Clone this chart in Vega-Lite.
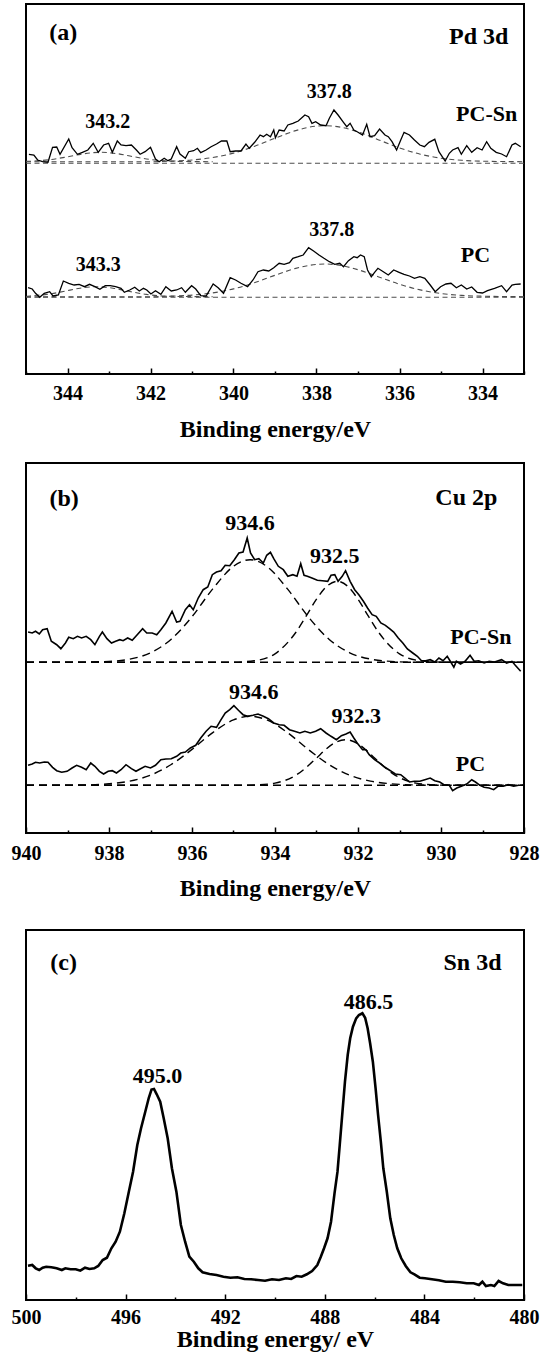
{
"$schema": "https://vega.github.io/schema/vega-lite/v6.json",
"background": "white",
"padding": {"left": 10, "top": 3, "right": 5, "bottom": 5},
"spacing": 20,
"config": {
  "font": "Liberation Serif",
  "view": {"stroke": "black", "strokeWidth": 2},
  "axis": {"grid": false, "domain": false, "ticks": true, "tickColor": "black", "tickWidth": 1.5, "labelFlush": false, "labelOverlap": false, "labelFont": "Liberation Serif", "labelFontWeight": "bold", "labelFontSize": 20, "labelColor": "black", "titleFont": "Liberation Serif", "titleFontWeight": "bold", "titleFontSize": 24, "titleColor": "black"},
  "text": {"font": "Liberation Serif", "fontWeight": "bold", "color": "black", "baseline": "middle", "align": "center"}
},
"datasets": {
"a_data": [
{"s":"PC-Sn","x":344.93,"y":219.7},{"s":"PC-Sn","x":344.81,"y":219.0},{"s":"PC-Sn","x":344.72,"y":214.0},{"s":"PC-Sn","x":344.60,"y":212.3},{"s":"PC-Sn","x":344.47,"y":211.7},{"s":"PC-Sn","x":344.36,"y":226.7},{"s":"PC-Sn","x":344.26,"y":227.0},{"s":"PC-Sn","x":344.18,"y":219.7},{"s":"PC-Sn","x":343.97,"y":235.0},{"s":"PC-Sn","x":343.89,"y":226.3},{"s":"PC-Sn","x":343.76,"y":219.7},{"s":"PC-Sn","x":343.64,"y":221.7},{"s":"PC-Sn","x":343.51,"y":224.0},{"s":"PC-Sn","x":343.38,"y":230.7},{"s":"PC-Sn","x":343.26,"y":221.7},{"s":"PC-Sn","x":343.13,"y":229.0},{"s":"PC-Sn","x":343.01,"y":230.7},{"s":"PC-Sn","x":342.92,"y":221.7},{"s":"PC-Sn","x":342.80,"y":233.0},{"s":"PC-Sn","x":342.71,"y":229.0},{"s":"PC-Sn","x":342.59,"y":228.3},{"s":"PC-Sn","x":342.46,"y":229.0},{"s":"PC-Sn","x":342.34,"y":224.0},{"s":"PC-Sn","x":342.25,"y":219.7},{"s":"PC-Sn","x":342.13,"y":222.3},{"s":"PC-Sn","x":342.00,"y":226.7},{"s":"PC-Sn","x":341.88,"y":215.0},{"s":"PC-Sn","x":341.79,"y":212.3},{"s":"PC-Sn","x":341.67,"y":215.7},{"s":"PC-Sn","x":341.58,"y":213.3},{"s":"PC-Sn","x":341.50,"y":215.0},{"s":"PC-Sn","x":341.37,"y":227.3},{"s":"PC-Sn","x":341.29,"y":220.0},{"s":"PC-Sn","x":341.16,"y":215.7},{"s":"PC-Sn","x":341.08,"y":222.3},{"s":"PC-Sn","x":340.96,"y":223.3},{"s":"PC-Sn","x":340.87,"y":225.7},{"s":"PC-Sn","x":340.79,"y":221.3},{"s":"PC-Sn","x":340.66,"y":224.0},{"s":"PC-Sn","x":340.54,"y":227.3},{"s":"PC-Sn","x":340.41,"y":230.0},{"s":"PC-Sn","x":340.29,"y":233.0},{"s":"PC-Sn","x":340.16,"y":233.0},{"s":"PC-Sn","x":340.08,"y":222.3},{"s":"PC-Sn","x":339.95,"y":223.0},{"s":"PC-Sn","x":339.82,"y":223.0},{"s":"PC-Sn","x":339.70,"y":230.0},{"s":"PC-Sn","x":339.62,"y":225.7},{"s":"PC-Sn","x":339.49,"y":231.7},{"s":"PC-Sn","x":339.36,"y":239.0},{"s":"PC-Sn","x":339.28,"y":237.3},{"s":"PC-Sn","x":339.20,"y":239.7},{"s":"PC-Sn","x":339.11,"y":237.3},{"s":"PC-Sn","x":339.03,"y":244.0},{"s":"PC-Sn","x":338.99,"y":236.3},{"s":"PC-Sn","x":338.90,"y":244.0},{"s":"PC-Sn","x":338.78,"y":243.0},{"s":"PC-Sn","x":338.69,"y":249.0},{"s":"PC-Sn","x":338.57,"y":250.7},{"s":"PC-Sn","x":338.44,"y":253.0},{"s":"PC-Sn","x":338.28,"y":259.0},{"s":"PC-Sn","x":338.19,"y":257.3},{"s":"PC-Sn","x":338.11,"y":250.7},{"s":"PC-Sn","x":338.02,"y":252.3},{"s":"PC-Sn","x":337.90,"y":249.0},{"s":"PC-Sn","x":337.77,"y":248.3},{"s":"PC-Sn","x":337.69,"y":255.7},{"s":"PC-Sn","x":337.58,"y":264.0},{"s":"PC-Sn","x":337.48,"y":259.0},{"s":"PC-Sn","x":337.35,"y":251.7},{"s":"PC-Sn","x":337.27,"y":247.3},{"s":"PC-Sn","x":337.19,"y":250.7},{"s":"PC-Sn","x":337.10,"y":244.0},{"s":"PC-Sn","x":337.02,"y":242.3},{"s":"PC-Sn","x":336.89,"y":239.0},{"s":"PC-Sn","x":336.79,"y":249.7},{"s":"PC-Sn","x":336.71,"y":237.3},{"s":"PC-Sn","x":336.60,"y":238.3},{"s":"PC-Sn","x":336.48,"y":245.0},{"s":"PC-Sn","x":336.35,"y":239.0},{"s":"PC-Sn","x":336.27,"y":237.3},{"s":"PC-Sn","x":336.18,"y":232.3},{"s":"PC-Sn","x":336.07,"y":224.0},{"s":"PC-Sn","x":335.97,"y":234.0},{"s":"PC-Sn","x":335.89,"y":241.7},{"s":"PC-Sn","x":335.76,"y":239.0},{"s":"PC-Sn","x":335.64,"y":234.0},{"s":"PC-Sn","x":335.51,"y":229.0},{"s":"PC-Sn","x":335.40,"y":227.3},{"s":"PC-Sn","x":335.29,"y":231.7},{"s":"PC-Sn","x":335.15,"y":234.7},{"s":"PC-Sn","x":335.05,"y":222.3},{"s":"PC-Sn","x":334.90,"y":213.0},{"s":"PC-Sn","x":334.80,"y":220.7},{"s":"PC-Sn","x":334.72,"y":224.0},{"s":"PC-Sn","x":334.59,"y":226.3},{"s":"PC-Sn","x":334.51,"y":219.7},{"s":"PC-Sn","x":334.38,"y":228.3},{"s":"PC-Sn","x":334.26,"y":221.7},{"s":"PC-Sn","x":334.13,"y":226.3},{"s":"PC-Sn","x":334.01,"y":224.0},{"s":"PC-Sn","x":333.90,"y":232.3},{"s":"PC-Sn","x":333.80,"y":225.7},{"s":"PC-Sn","x":333.67,"y":221.7},{"s":"PC-Sn","x":333.54,"y":220.0},{"s":"PC-Sn","x":333.42,"y":217.3},{"s":"PC-Sn","x":333.29,"y":229.0},{"s":"PC-Sn","x":333.21,"y":230.7},{"s":"PC-Sn","x":333.08,"y":227.3},
{"s":"PC","x":344.95,"y":86.3},{"s":"PC","x":344.85,"y":85.0},{"s":"PC","x":344.77,"y":80.7},{"s":"PC","x":344.67,"y":76.7},{"s":"PC","x":344.56,"y":80.7},{"s":"PC","x":344.43,"y":82.3},{"s":"PC","x":344.35,"y":78.0},{"s":"PC","x":344.22,"y":79.0},{"s":"PC","x":344.10,"y":93.0},{"s":"PC","x":343.97,"y":90.7},{"s":"PC","x":343.84,"y":89.0},{"s":"PC","x":343.72,"y":89.7},{"s":"PC","x":343.59,"y":87.3},{"s":"PC","x":343.47,"y":89.7},{"s":"PC","x":343.34,"y":87.3},{"s":"PC","x":343.22,"y":84.7},{"s":"PC","x":343.09,"y":88.3},{"s":"PC","x":342.97,"y":88.3},{"s":"PC","x":342.84,"y":87.3},{"s":"PC","x":342.71,"y":85.7},{"s":"PC","x":342.63,"y":81.7},{"s":"PC","x":342.50,"y":84.0},{"s":"PC","x":342.38,"y":86.7},{"s":"PC","x":342.27,"y":83.0},{"s":"PC","x":342.17,"y":85.7},{"s":"PC","x":342.09,"y":84.0},{"s":"PC","x":341.99,"y":80.0},{"s":"PC","x":341.88,"y":83.3},{"s":"PC","x":341.75,"y":79.7},{"s":"PC","x":341.63,"y":87.3},{"s":"PC","x":341.50,"y":83.0},{"s":"PC","x":341.37,"y":84.0},{"s":"PC","x":341.25,"y":86.3},{"s":"PC","x":341.16,"y":81.7},{"s":"PC","x":341.01,"y":88.3},{"s":"PC","x":340.91,"y":85.0},{"s":"PC","x":340.79,"y":78.3},{"s":"PC","x":340.66,"y":78.0},{"s":"PC","x":340.49,"y":90.0},{"s":"PC","x":340.37,"y":86.3},{"s":"PC","x":340.24,"y":80.7},{"s":"PC","x":340.08,"y":96.3},{"s":"PC","x":339.95,"y":94.0},{"s":"PC","x":339.82,"y":90.7},{"s":"PC","x":339.66,"y":87.3},{"s":"PC","x":339.53,"y":94.0},{"s":"PC","x":339.41,"y":102.3},{"s":"PC","x":339.28,"y":104.0},{"s":"PC","x":339.15,"y":103.0},{"s":"PC","x":339.03,"y":106.3},{"s":"PC","x":338.90,"y":110.7},{"s":"PC","x":338.78,"y":109.7},{"s":"PC","x":338.65,"y":111.3},{"s":"PC","x":338.57,"y":115.7},{"s":"PC","x":338.44,"y":117.3},{"s":"PC","x":338.32,"y":119.0},{"s":"PC","x":338.19,"y":126.3},{"s":"PC","x":338.07,"y":123.0},{"s":"PC","x":337.94,"y":119.0},{"s":"PC","x":337.82,"y":115.7},{"s":"PC","x":337.69,"y":112.3},{"s":"PC","x":337.56,"y":109.7},{"s":"PC","x":337.44,"y":110.7},{"s":"PC","x":337.35,"y":107.3},{"s":"PC","x":337.23,"y":113.3},{"s":"PC","x":337.10,"y":117.3},{"s":"PC","x":337.02,"y":116.3},{"s":"PC","x":336.94,"y":119.0},{"s":"PC","x":336.85,"y":117.3},{"s":"PC","x":336.77,"y":104.0},{"s":"PC","x":336.68,"y":97.3},{"s":"PC","x":336.60,"y":101.7},{"s":"PC","x":336.52,"y":105.7},{"s":"PC","x":336.39,"y":102.3},{"s":"PC","x":336.27,"y":99.0},{"s":"PC","x":336.14,"y":104.0},{"s":"PC","x":336.01,"y":101.7},{"s":"PC","x":335.89,"y":99.7},{"s":"PC","x":335.76,"y":98.0},{"s":"PC","x":335.64,"y":95.7},{"s":"PC","x":335.51,"y":97.3},{"s":"PC","x":335.39,"y":95.7},{"s":"PC","x":335.26,"y":89.0},{"s":"PC","x":335.14,"y":82.3},{"s":"PC","x":335.01,"y":87.3},{"s":"PC","x":334.88,"y":90.0},{"s":"PC","x":334.76,"y":90.7},{"s":"PC","x":334.63,"y":86.3},{"s":"PC","x":334.51,"y":89.0},{"s":"PC","x":334.38,"y":85.0},{"s":"PC","x":334.26,"y":87.0},{"s":"PC","x":334.13,"y":81.7},{"s":"PC","x":334.00,"y":81.0},{"s":"PC","x":333.88,"y":83.3},{"s":"PC","x":333.71,"y":85.7},{"s":"PC","x":333.54,"y":88.3},{"s":"PC","x":333.42,"y":82.3},{"s":"PC","x":333.29,"y":89.0},{"s":"PC","x":333.21,"y":89.7},{"s":"PC","x":333.08,"y":90.0}
],
"a_fit": [
{"s":"PC-Sn base","x":345,"y":210.8},{"s":"PC-Sn base","x":333,"y":210.8},
{"s":"PC-Sn main","x":345,"y":212.3},{"s":"PC-Sn main","x":342,"y":212.3},{"s":"PC-Sn main","x":341.5,"y":212.9},{"s":"PC-Sn main","x":341,"y":214.0},{"s":"PC-Sn main","x":340.5,"y":216.5},{"s":"PC-Sn main","x":340,"y":220.9},{"s":"PC-Sn main","x":339.5,"y":227.6},{"s":"PC-Sn main","x":339,"y":235.8},{"s":"PC-Sn main","x":338.5,"y":243.4},{"s":"PC-Sn main","x":338,"y":247.9},{"s":"PC-Sn main","x":337.8,"y":248.3},{"s":"PC-Sn main","x":337.5,"y":247.4},{"s":"PC-Sn main","x":337,"y":242.1},{"s":"PC-Sn main","x":336.5,"y":234.1},{"s":"PC-Sn main","x":336,"y":226.1},{"s":"PC-Sn main","x":335.5,"y":219.8},{"s":"PC-Sn main","x":335,"y":215.8},{"s":"PC-Sn main","x":334.5,"y":213.7},{"s":"PC-Sn main","x":334,"y":212.8},{"s":"PC-Sn main","x":333,"y":212.3},
{"s":"PC-Sn small","x":345,"y":212.6},{"s":"PC-Sn small","x":344.8,"y":213.0},{"s":"PC-Sn small","x":344.4,"y":214.5},{"s":"PC-Sn small","x":344,"y":217.2},{"s":"PC-Sn small","x":343.6,"y":220.3},{"s":"PC-Sn small","x":343.2,"y":221.7},{"s":"PC-Sn small","x":342.8,"y":220.3},{"s":"PC-Sn small","x":342.4,"y":217.2},{"s":"PC-Sn small","x":342,"y":214.5},{"s":"PC-Sn small","x":341.6,"y":213.0},{"s":"PC-Sn small","x":341.2,"y":212.5},{"s":"PC-Sn small","x":340.5,"y":212.3},
{"s":"PC base","x":345,"y":76.7},{"s":"PC base","x":333,"y":76.7},
{"s":"PC main","x":345,"y":77.3},{"s":"PC main","x":342,"y":77.3},{"s":"PC main","x":341.5,"y":77.9},{"s":"PC main","x":341,"y":78.9},{"s":"PC main","x":340.5,"y":81.1},{"s":"PC main","x":340,"y":85.1},{"s":"PC main","x":339.5,"y":91.2},{"s":"PC main","x":339,"y":98.7},{"s":"PC main","x":338.5,"y":105.6},{"s":"PC main","x":338,"y":109.6},{"s":"PC main","x":337.8,"y":110.0},{"s":"PC main","x":337.5,"y":109.1},{"s":"PC main","x":337,"y":104.3},{"s":"PC main","x":336.5,"y":97.1},{"s":"PC main","x":336,"y":89.8},{"s":"PC main","x":335.5,"y":84.1},{"s":"PC main","x":335,"y":80.5},{"s":"PC main","x":334.5,"y":78.6},{"s":"PC main","x":334,"y":77.8},{"s":"PC main","x":333,"y":77.3},
{"s":"PC small","x":345,"y":77.5},{"s":"PC small","x":344.9,"y":78.0},{"s":"PC small","x":344.5,"y":79.6},{"s":"PC small","x":344.1,"y":82.5},{"s":"PC small","x":343.7,"y":85.8},{"s":"PC small","x":343.3,"y":87.3},{"s":"PC small","x":342.9,"y":85.8},{"s":"PC small","x":342.5,"y":82.5},{"s":"PC small","x":342.1,"y":79.6},{"s":"PC small","x":341.7,"y":78.0},{"s":"PC small","x":341.3,"y":77.5},{"s":"PC small","x":340.5,"y":77.3}
],
"a_text": [
{"k":"peak","x":343.03,"y":252.3,"t":"343.2"},{"k":"peak","x":337.69,"y":281.7,"t":"337.8"},{"k":"peak","x":337.63,"y":144,"t":"337.8"},{"k":"peak","x":343.26,"y":109.3,"t":"343.3"},
{"k":"sample","x":333.9,"y":260.3,"t":"PC-Sn"},{"k":"sample","x":334.17,"y":119,"t":"PC"},
{"k":"head","x":344.1,"y":340.7,"t":"(a)"},{"k":"head","x":334.09,"y":337.3,"t":"Pd 3d"}
],
"b_data": [
{"s":"PC-Sn","x":939.95,"y":201},{"s":"PC-Sn","x":939.85,"y":200},{"s":"PC-Sn","x":939.77,"y":201.7},{"s":"PC-Sn","x":939.68,"y":199},{"s":"PC-Sn","x":939.60,"y":203.3},{"s":"PC-Sn","x":939.49,"y":204.3},{"s":"PC-Sn","x":939.39,"y":191.7},{"s":"PC-Sn","x":939.26,"y":188.3},{"s":"PC-Sn","x":939.16,"y":184.3},{"s":"PC-Sn","x":939.05,"y":190},{"s":"PC-Sn","x":938.97,"y":195.7},{"s":"PC-Sn","x":938.86,"y":194.3},{"s":"PC-Sn","x":938.76,"y":196.7},{"s":"PC-Sn","x":938.66,"y":195},{"s":"PC-Sn","x":938.55,"y":196.7},{"s":"PC-Sn","x":938.44,"y":193.3},{"s":"PC-Sn","x":938.34,"y":188.3},{"s":"PC-Sn","x":938.23,"y":196.7},{"s":"PC-Sn","x":938.16,"y":201},{"s":"PC-Sn","x":938.05,"y":194.3},{"s":"PC-Sn","x":937.94,"y":190},{"s":"PC-Sn","x":937.84,"y":191.7},{"s":"PC-Sn","x":937.74,"y":193.3},{"s":"PC-Sn","x":937.66,"y":192.3},{"s":"PC-Sn","x":937.55,"y":195},{"s":"PC-Sn","x":937.44,"y":192.7},{"s":"PC-Sn","x":937.32,"y":198.3},{"s":"PC-Sn","x":937.19,"y":204.3},{"s":"PC-Sn","x":937.09,"y":200},{"s":"PC-Sn","x":936.96,"y":200},{"s":"PC-Sn","x":936.85,"y":198.3},{"s":"PC-Sn","x":936.75,"y":203.3},{"s":"PC-Sn","x":936.63,"y":210},{"s":"PC-Sn","x":936.48,"y":221.7},{"s":"PC-Sn","x":936.37,"y":211},{"s":"PC-Sn","x":936.29,"y":211.7},{"s":"PC-Sn","x":936.16,"y":223.3},{"s":"PC-Sn","x":936.06,"y":228.3},{"s":"PC-Sn","x":935.97,"y":223.3},{"s":"PC-Sn","x":935.85,"y":235},{"s":"PC-Sn","x":935.73,"y":243.3},{"s":"PC-Sn","x":935.62,"y":246},{"s":"PC-Sn","x":935.51,"y":258.3},{"s":"PC-Sn","x":935.41,"y":261},{"s":"PC-Sn","x":935.30,"y":262.3},{"s":"PC-Sn","x":935.20,"y":267.7},{"s":"PC-Sn","x":935.09,"y":267.3},{"s":"PC-Sn","x":934.98,"y":273.3},{"s":"PC-Sn","x":934.87,"y":280},{"s":"PC-Sn","x":934.77,"y":281},{"s":"PC-Sn","x":934.67,"y":295},{"s":"PC-Sn","x":934.59,"y":280},{"s":"PC-Sn","x":934.49,"y":273.3},{"s":"PC-Sn","x":934.39,"y":274.3},{"s":"PC-Sn","x":934.28,"y":270},{"s":"PC-Sn","x":934.20,"y":277.7},{"s":"PC-Sn","x":934.11,"y":280.7},{"s":"PC-Sn","x":934.03,"y":274.3},{"s":"PC-Sn","x":933.92,"y":266.7},{"s":"PC-Sn","x":933.80,"y":263.3},{"s":"PC-Sn","x":933.69,"y":256.7},{"s":"PC-Sn","x":933.57,"y":258.3},{"s":"PC-Sn","x":933.47,"y":256.7},{"s":"PC-Sn","x":933.38,"y":269.3},{"s":"PC-Sn","x":933.30,"y":257.7},{"s":"PC-Sn","x":933.22,"y":256.7},{"s":"PC-Sn","x":933.11,"y":255},{"s":"PC-Sn","x":932.98,"y":252.7},{"s":"PC-Sn","x":932.86,"y":252.3},{"s":"PC-Sn","x":932.73,"y":251.7},{"s":"PC-Sn","x":932.65,"y":257.7},{"s":"PC-Sn","x":932.56,"y":258.3},{"s":"PC-Sn","x":932.48,"y":251.7},{"s":"PC-Sn","x":932.38,"y":256.7},{"s":"PC-Sn","x":932.30,"y":262.3},{"s":"PC-Sn","x":932.19,"y":251.7},{"s":"PC-Sn","x":932.08,"y":243.3},{"s":"PC-Sn","x":931.98,"y":238.3},{"s":"PC-Sn","x":931.87,"y":231.7},{"s":"PC-Sn","x":931.77,"y":225},{"s":"PC-Sn","x":931.66,"y":218.3},{"s":"PC-Sn","x":931.56,"y":216.7},{"s":"PC-Sn","x":931.45,"y":210},{"s":"PC-Sn","x":931.34,"y":207.7},{"s":"PC-Sn","x":931.24,"y":204.3},{"s":"PC-Sn","x":931.14,"y":201},{"s":"PC-Sn","x":931.03,"y":195},{"s":"PC-Sn","x":930.92,"y":190},{"s":"PC-Sn","x":930.81,"y":184},{"s":"PC-Sn","x":930.68,"y":180},{"s":"PC-Sn","x":930.57,"y":176.7},{"s":"PC-Sn","x":930.47,"y":172.3},{"s":"PC-Sn","x":930.37,"y":172.3},{"s":"PC-Sn","x":930.26,"y":173.3},{"s":"PC-Sn","x":930.15,"y":171},{"s":"PC-Sn","x":930.05,"y":175},{"s":"PC-Sn","x":929.95,"y":172.3},{"s":"PC-Sn","x":929.85,"y":176.7},{"s":"PC-Sn","x":929.75,"y":170},{"s":"PC-Sn","x":929.69,"y":165.7},{"s":"PC-Sn","x":929.63,"y":171.7},{"s":"PC-Sn","x":929.53,"y":169},{"s":"PC-Sn","x":929.42,"y":171.7},{"s":"PC-Sn","x":929.30,"y":177.7},{"s":"PC-Sn","x":929.20,"y":171.7},{"s":"PC-Sn","x":929.09,"y":172.3},{"s":"PC-Sn","x":928.96,"y":170},{"s":"PC-Sn","x":928.84,"y":171.7},{"s":"PC-Sn","x":928.71,"y":171},{"s":"PC-Sn","x":928.54,"y":173.3},{"s":"PC-Sn","x":928.42,"y":170},{"s":"PC-Sn","x":928.29,"y":171.7},{"s":"PC-Sn","x":928.21,"y":167.7},{"s":"PC-Sn","x":928.08,"y":161.7},
{"s":"PC","x":939.95,"y":67.7},{"s":"PC","x":939.85,"y":69},{"s":"PC","x":939.77,"y":70.7},{"s":"PC","x":939.67,"y":70},{"s":"PC","x":939.56,"y":71},{"s":"PC","x":939.47,"y":70.7},{"s":"PC","x":939.36,"y":65.7},{"s":"PC","x":939.26,"y":62.3},{"s":"PC","x":939.14,"y":60.7},{"s":"PC","x":939.01,"y":61.7},{"s":"PC","x":938.89,"y":65},{"s":"PC","x":938.78,"y":67.7},{"s":"PC","x":938.66,"y":65.7},{"s":"PC","x":938.55,"y":63.3},{"s":"PC","x":938.44,"y":70},{"s":"PC","x":938.34,"y":66.7},{"s":"PC","x":938.23,"y":61.7},{"s":"PC","x":938.13,"y":59},{"s":"PC","x":938.02,"y":61.7},{"s":"PC","x":937.92,"y":62.3},{"s":"PC","x":937.82,"y":60},{"s":"PC","x":937.71,"y":63.3},{"s":"PC","x":937.59,"y":68.3},{"s":"PC","x":937.46,"y":64.3},{"s":"PC","x":937.35,"y":61.7},{"s":"PC","x":937.25,"y":64},{"s":"PC","x":937.13,"y":66.7},{"s":"PC","x":937.00,"y":65},{"s":"PC","x":936.88,"y":67.7},{"s":"PC","x":936.75,"y":73.3},{"s":"PC","x":936.63,"y":74},{"s":"PC","x":936.50,"y":74.3},{"s":"PC","x":936.37,"y":76.7},{"s":"PC","x":936.27,"y":80},{"s":"PC","x":936.16,"y":81},{"s":"PC","x":936.04,"y":85},{"s":"PC","x":935.91,"y":87.7},{"s":"PC","x":935.79,"y":95},{"s":"PC","x":935.66,"y":101.7},{"s":"PC","x":935.54,"y":106.7},{"s":"PC","x":935.41,"y":105.7},{"s":"PC","x":935.30,"y":113.3},{"s":"PC","x":935.20,"y":120},{"s":"PC","x":935.09,"y":123.3},{"s":"PC","x":934.99,"y":127.3},{"s":"PC","x":934.87,"y":122.3},{"s":"PC","x":934.77,"y":118.3},{"s":"PC","x":934.66,"y":116.7},{"s":"PC","x":934.53,"y":117.7},{"s":"PC","x":934.41,"y":119},{"s":"PC","x":934.28,"y":116.7},{"s":"PC","x":934.16,"y":114.3},{"s":"PC","x":934.03,"y":110},{"s":"PC","x":933.90,"y":108.3},{"s":"PC","x":933.78,"y":107.7},{"s":"PC","x":933.65,"y":103.3},{"s":"PC","x":933.53,"y":101.7},{"s":"PC","x":933.40,"y":100},{"s":"PC","x":933.28,"y":101.7},{"s":"PC","x":933.15,"y":100},{"s":"PC","x":933.02,"y":101.7},{"s":"PC","x":932.90,"y":104.3},{"s":"PC","x":932.77,"y":100},{"s":"PC","x":932.65,"y":96.7},{"s":"PC","x":932.52,"y":93.3},{"s":"PC","x":932.40,"y":97.3},{"s":"PC","x":932.29,"y":99},{"s":"PC","x":932.19,"y":101},{"s":"PC","x":932.10,"y":95},{"s":"PC","x":932.02,"y":90},{"s":"PC","x":931.89,"y":83.3},{"s":"PC","x":931.81,"y":83.3},{"s":"PC","x":931.73,"y":78.3},{"s":"PC","x":931.60,"y":73.3},{"s":"PC","x":931.48,"y":70},{"s":"PC","x":931.35,"y":65.7},{"s":"PC","x":931.22,"y":62.3},{"s":"PC","x":931.10,"y":59},{"s":"PC","x":930.97,"y":58.3},{"s":"PC","x":930.87,"y":55},{"s":"PC","x":930.76,"y":51},{"s":"PC","x":930.64,"y":51.7},{"s":"PC","x":930.51,"y":51.7},{"s":"PC","x":930.39,"y":53.3},{"s":"PC","x":930.26,"y":55},{"s":"PC","x":930.15,"y":52.3},{"s":"PC","x":930.03,"y":51},{"s":"PC","x":929.93,"y":48.3},{"s":"PC","x":929.80,"y":47.7},{"s":"PC","x":929.72,"y":42.3},{"s":"PC","x":929.62,"y":45},{"s":"PC","x":929.51,"y":46.7},{"s":"PC","x":929.38,"y":49},{"s":"PC","x":929.26,"y":53.3},{"s":"PC","x":929.17,"y":51},{"s":"PC","x":929.06,"y":47.7},{"s":"PC","x":928.96,"y":45.7},{"s":"PC","x":928.84,"y":45},{"s":"PC","x":928.73,"y":43.3},{"s":"PC","x":928.63,"y":46.7},{"s":"PC","x":928.50,"y":46.7},{"s":"PC","x":928.38,"y":48.3},{"s":"PC","x":928.25,"y":46.7},{"s":"PC","x":928.13,"y":47.7}
],
"b_fit": [
{"s":"PC-Sn base","x":940,"y":170.7},{"s":"PC-Sn base","x":928,"y":170.7},
{"s":"PC-Sn 1","x":940,"y":170.7},{"s":"PC-Sn 1","x":939,"y":170.7},{"s":"PC-Sn 1","x":938,"y":171.6},{"s":"PC-Sn 1","x":937.5,"y":173.9},{"s":"PC-Sn 1","x":937,"y":180.2},{"s":"PC-Sn 1","x":936.5,"y":193.8},{"s":"PC-Sn 1","x":936,"y":216.3},{"s":"PC-Sn 1","x":935.5,"y":244.1},{"s":"PC-Sn 1","x":935,"y":266.7},{"s":"PC-Sn 1","x":934.6,"y":273.3},{"s":"PC-Sn 1","x":934.2,"y":266.7},{"s":"PC-Sn 1","x":933.7,"y":244.1},{"s":"PC-Sn 1","x":933.2,"y":216.3},{"s":"PC-Sn 1","x":932.7,"y":193.8},{"s":"PC-Sn 1","x":932.2,"y":180.2},{"s":"PC-Sn 1","x":931.7,"y":173.9},{"s":"PC-Sn 1","x":931.2,"y":171.6},{"s":"PC-Sn 1","x":930.5,"y":170.7},{"s":"PC-Sn 1","x":928,"y":170.7},
{"s":"PC-Sn 2","x":940,"y":170.7},{"s":"PC-Sn 2","x":935.5,"y":170.7},{"s":"PC-Sn 2","x":935,"y":170.9},{"s":"PC-Sn 2","x":934.5,"y":172.2},{"s":"PC-Sn 2","x":934,"y":179.2},{"s":"PC-Sn 2","x":933.5,"y":200.5},{"s":"PC-Sn 2","x":933.25,"y":216.8},{"s":"PC-Sn 2","x":933,"y":233.8},{"s":"PC-Sn 2","x":932.75,"y":246.8},{"s":"PC-Sn 2","x":932.5,"y":251.7},{"s":"PC-Sn 2","x":932.25,"y":246.8},{"s":"PC-Sn 2","x":932,"y":233.8},{"s":"PC-Sn 2","x":931.75,"y":216.8},{"s":"PC-Sn 2","x":931.5,"y":200.5},{"s":"PC-Sn 2","x":931,"y":179.2},{"s":"PC-Sn 2","x":930.5,"y":172.2},{"s":"PC-Sn 2","x":930,"y":170.9},{"s":"PC-Sn 2","x":929.5,"y":170.7},{"s":"PC-Sn 2","x":928,"y":170.7},
{"s":"PC base","x":940,"y":47.7},{"s":"PC base","x":928,"y":47.7},
{"s":"PC 1","x":940,"y":47.7},{"s":"PC 1","x":939.5,"y":47.7},{"s":"PC 1","x":938.5,"y":48.1},{"s":"PC 1","x":938,"y":49.2},{"s":"PC 1","x":937.5,"y":51.9},{"s":"PC 1","x":937,"y":57.8},{"s":"PC 1","x":936.5,"y":68.5},{"s":"PC 1","x":936,"y":83.6},{"s":"PC 1","x":935.5,"y":100.4},{"s":"PC 1","x":935,"y":113.1},{"s":"PC 1","x":934.6,"y":116.7},{"s":"PC 1","x":934.2,"y":113.1},{"s":"PC 1","x":933.7,"y":100.4},{"s":"PC 1","x":933.2,"y":83.6},{"s":"PC 1","x":932.7,"y":68.5},{"s":"PC 1","x":932.2,"y":57.8},{"s":"PC 1","x":931.7,"y":51.9},{"s":"PC 1","x":931.2,"y":49.2},{"s":"PC 1","x":930.7,"y":48.1},{"s":"PC 1","x":930,"y":47.7},{"s":"PC 1","x":928,"y":47.7},
{"s":"PC 2","x":940,"y":47.7},{"s":"PC 2","x":935,"y":47.7},{"s":"PC 2","x":934.5,"y":48.0},{"s":"PC 2","x":934,"y":49.9},{"s":"PC 2","x":933.5,"y":57.7},{"s":"PC 2","x":933,"y":74.9},{"s":"PC 2","x":932.8,"y":82.8},{"s":"PC 2","x":932.6,"y":89.2},{"s":"PC 2","x":932.3,"y":93.3},{"s":"PC 2","x":932,"y":89.2},{"s":"PC 2","x":931.8,"y":82.8},{"s":"PC 2","x":931.6,"y":74.9},{"s":"PC 2","x":931.1,"y":57.7},{"s":"PC 2","x":930.6,"y":49.9},{"s":"PC 2","x":930.1,"y":48.0},{"s":"PC 2","x":929.6,"y":47.7},{"s":"PC 2","x":928,"y":47.7}
],
"b_text": [
{"k":"peak","x":934.6,"y":309.7,"t":"934.6"},{"k":"peak","x":932.56,"y":277.3,"t":"932.5"},{"k":"peak","x":934.51,"y":140.7,"t":"934.6"},{"k":"peak","x":932.04,"y":117.3,"t":"932.3"},
{"k":"sample","x":929.04,"y":196.3,"t":"PC-Sn"},{"k":"sample","x":929.29,"y":69,"t":"PC"},
{"k":"head","x":939.08,"y":334.3,"t":"(b)"},{"k":"head","x":929.39,"y":335,"t":"Cu 2p"}
],
"c_data": [
{"x":499.92,"y":34.3},{"x":499.75,"y":35},{"x":499.61,"y":31.7},{"x":499.47,"y":30},{"x":499.33,"y":32.3},{"x":499.19,"y":33.3},{"x":498.98,"y":32.7},{"x":498.77,"y":31.7},{"x":498.56,"y":30},{"x":498.42,"y":31.7},{"x":498.21,"y":30.7},{"x":498.00,"y":30.7},{"x":497.82,"y":29.3},{"x":497.63,"y":32.3},{"x":497.45,"y":31},{"x":497.26,"y":31.7},{"x":497.10,"y":34},{"x":496.92,"y":40},{"x":496.75,"y":42.3},{"x":496.57,"y":51.7},{"x":496.40,"y":58.3},{"x":496.23,"y":68.3},{"x":496.05,"y":86.7},{"x":495.87,"y":108.3},{"x":495.70,"y":128.3},{"x":495.53,"y":155},{"x":495.38,"y":171.7},{"x":495.21,"y":188.3},{"x":495.07,"y":202},{"x":494.96,"y":210.5},{"x":494.86,"y":211},{"x":494.75,"y":205.7},{"x":494.61,"y":198.3},{"x":494.47,"y":181.7},{"x":494.31,"y":161.7},{"x":494.14,"y":131.7},{"x":493.96,"y":108.3},{"x":493.78,"y":75},{"x":493.61,"y":58.3},{"x":493.44,"y":43.3},{"x":493.26,"y":38.3},{"x":493.08,"y":31.7},{"x":492.91,"y":27.7},{"x":492.63,"y":26},{"x":492.35,"y":25},{"x":492.07,"y":23.3},{"x":491.79,"y":22.3},{"x":491.51,"y":22.7},{"x":491.23,"y":21},{"x":490.96,"y":20.7},{"x":490.68,"y":20},{"x":490.40,"y":19.3},{"x":490.12,"y":20.7},{"x":489.84,"y":20},{"x":489.56,"y":21.7},{"x":489.35,"y":21},{"x":489.14,"y":24},{"x":488.93,"y":23.3},{"x":488.72,"y":25.7},{"x":488.51,"y":29},{"x":488.30,"y":35},{"x":488.16,"y":43.3},{"x":488.03,"y":51.7},{"x":487.89,"y":61.7},{"x":487.75,"y":78.3},{"x":487.61,"y":106.7},{"x":487.49,"y":128.3},{"x":487.40,"y":155},{"x":487.29,"y":188.3},{"x":487.19,"y":218.3},{"x":487.08,"y":245},{"x":486.98,"y":261.7},{"x":486.87,"y":273.3},{"x":486.74,"y":281.7},{"x":486.63,"y":285},{"x":486.49,"y":286.7},{"x":486.38,"y":282.3},{"x":486.28,"y":271.7},{"x":486.18,"y":256.7},{"x":486.07,"y":238.3},{"x":485.96,"y":211.7},{"x":485.86,"y":185},{"x":485.75,"y":158.3},{"x":485.65,"y":131.7},{"x":485.51,"y":108.3},{"x":485.37,"y":81.7},{"x":485.23,"y":65},{"x":485.09,"y":51.7},{"x":484.93,"y":41.7},{"x":484.75,"y":34},{"x":484.56,"y":27.7},{"x":484.40,"y":25.7},{"x":484.19,"y":22.3},{"x":483.98,"y":21.7},{"x":483.70,"y":20.7},{"x":483.42,"y":19.7},{"x":483.14,"y":18.3},{"x":482.86,"y":18.3},{"x":482.58,"y":17.7},{"x":482.30,"y":16.7},{"x":482.02,"y":16.7},{"x":481.81,"y":15},{"x":481.67,"y":18.3},{"x":481.53,"y":14},{"x":481.33,"y":15},{"x":481.19,"y":14},{"x":481.02,"y":19},{"x":480.84,"y":16.7},{"x":480.63,"y":15},{"x":480.35,"y":15},{"x":480.07,"y":15}
],
"c_text": [
{"k":"peak","x":486.25,"y":298.3,"t":"486.5"},{"k":"peak","x":494.72,"y":224.3,"t":"495.0"},
{"k":"head","x":498.49,"y":336.7,"t":"(c)"},{"k":"head","x":482.07,"y":336.7,"t":"Sn 3d"}
]
},
"vconcat": [
{
  "width": 498, "height": 370,
  "encoding": {
    "x": {"field": "x", "type": "quantitative", "scale": {"domain": [333, 345], "reverse": true, "nice": false, "zero": false},
      "axis": {"title": "Binding energy/eV", "values": [333,334,335,336,337,338,339,340,341,342,343,344,345], "labelExpr": "datum.value % 2 === 0 ? datum.label : ''", "tickSize": {"condition": {"test": "datum.value % 2 === 0", "value": -6}, "value": -3}, "labelPadding": 15.5, "titleY": 62, "titleBaseline": "alphabetic"}},
    "y": {"field": "y", "type": "quantitative", "scale": {"domain": [0, 370], "nice": false, "zero": false}, "axis": null}
  },
  "layer": [
    {"data": {"name": "a_fit"}, "mark": {"type": "line", "interpolate": "monotone", "color": "#4d4d4d", "strokeWidth": 1.1, "strokeDash": [5, 3.5]}, "encoding": {"detail": {"field": "s", "type": "nominal"}}},
    {"data": {"name": "a_data"}, "mark": {"type": "line", "color": "black", "strokeWidth": 1.3}, "encoding": {"detail": {"field": "s", "type": "nominal"}}},
    {"data": {"name": "a_text"}, "transform": [{"filter": "datum.k === 'peak'"}], "mark": {"type": "text", "fontSize": 20}, "encoding": {"text": {"field": "t", "type": "nominal"}}},
    {"data": {"name": "a_text"}, "transform": [{"filter": "datum.k === 'sample'"}], "mark": {"type": "text", "fontSize": 22}, "encoding": {"text": {"field": "t", "type": "nominal"}}},
    {"data": {"name": "a_text"}, "transform": [{"filter": "datum.k === 'head'"}], "mark": {"type": "text", "fontSize": 24}, "encoding": {"text": {"field": "t", "type": "nominal"}}}
  ]
},
{
  "width": 498, "height": 370,
  "encoding": {
    "x": {"field": "x", "type": "quantitative", "scale": {"domain": [928, 940], "reverse": true, "nice": false, "zero": false},
      "axis": {"title": ["Binding energy/eV", ""], "titleLineHeight": 8, "values": [928,929,930,931,932,933,934,935,936,937,938,939,940], "labelExpr": "datum.value % 2 === 0 ? datum.label : ''", "tickSize": {"condition": {"test": "datum.value % 2 === 0", "value": -6}, "value": -3}, "labelPadding": 16, "titleY": 62, "titleBaseline": "alphabetic"}},
    "y": {"field": "y", "type": "quantitative", "scale": {"domain": [0, 370], "nice": false, "zero": false}, "axis": null}
  },
  "layer": [
    {"data": {"name": "b_fit"}, "mark": {"type": "line", "interpolate": "monotone", "color": "black", "strokeWidth": 1.4, "strokeDash": [8, 5]}, "encoding": {"detail": {"field": "s", "type": "nominal"}}},
    {"data": {"name": "b_data"}, "mark": {"type": "line", "color": "black", "strokeWidth": 1.6}, "encoding": {"detail": {"field": "s", "type": "nominal"}}},
    {"data": {"name": "b_text"}, "transform": [{"filter": "datum.k === 'peak'"}], "mark": {"type": "text", "fontSize": 22}, "encoding": {"text": {"field": "t", "type": "nominal"}}},
    {"data": {"name": "b_text"}, "transform": [{"filter": "datum.k === 'sample'"}], "mark": {"type": "text", "fontSize": 22}, "encoding": {"text": {"field": "t", "type": "nominal"}}},
    {"data": {"name": "b_text"}, "transform": [{"filter": "datum.k === 'head'"}], "mark": {"type": "text", "fontSize": 24}, "encoding": {"text": {"field": "t", "type": "nominal"}}}
  ]
},
{
  "width": 498, "height": 370,
  "encoding": {
    "x": {"field": "x", "type": "quantitative", "scale": {"domain": [480, 500], "reverse": true, "nice": false, "zero": false},
      "axis": {"title": "Binding energy/ eV", "values": [480,482,484,486,488,490,492,494,496,498,500], "labelExpr": "datum.value % 4 === 0 ? datum.label : ''", "tickSize": {"condition": {"test": "datum.value % 4 === 0", "value": -6}, "value": -3}, "labelPadding": 13, "titleY": 46, "titleBaseline": "alphabetic"}},
    "y": {"field": "y", "type": "quantitative", "scale": {"domain": [0, 370], "nice": false, "zero": false}, "axis": null}
  },
  "layer": [
    {"data": {"name": "c_data"}, "mark": {"type": "line", "color": "black", "strokeWidth": 2.6}},
    {"data": {"name": "c_text"}, "transform": [{"filter": "datum.k === 'peak'"}], "mark": {"type": "text", "fontSize": 22}, "encoding": {"text": {"field": "t", "type": "nominal"}}},
    {"data": {"name": "c_text"}, "transform": [{"filter": "datum.k === 'head'"}], "mark": {"type": "text", "fontSize": 24}, "encoding": {"text": {"field": "t", "type": "nominal"}}}
  ]
}
]
}
